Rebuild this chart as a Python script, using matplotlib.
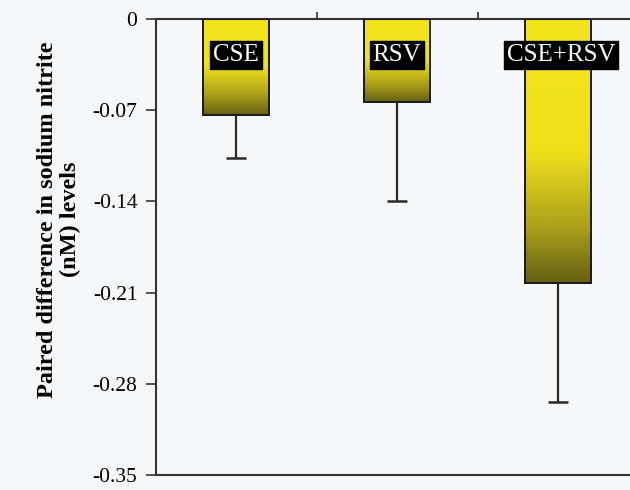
import matplotlib
matplotlib.use("Agg")
import matplotlib.pyplot as plt
import numpy as np
from matplotlib.colors import LinearSegmentedColormap

categories = ["CSE", "RSV", "CSE+RSV"]
values = [-0.074, -0.064, -0.203]
errors = [0.033, 0.076, 0.091]
yticks = [0, -0.07, -0.14, -0.21, -0.28, -0.35]
ytick_labels = ["0", "-0.07", "-0.14", "-0.21", "-0.28", "-0.35"]
ylabel = "Paired difference in sodium nitrite\n(nM) levels"

plt.rcParams['font.family'] = ['Liberation Serif', 'DejaVu Serif']
plt.rcParams['axes.unicode_minus'] = False

W, H = 630, 490
fig = plt.figure(figsize=(W / 100, H / 100), dpi=100)
bg = "#f6f7f9"
fig.patch.set_facecolor(bg)

left_px, right_px = 155.5, 638.5
top_px, bot_px = 19, 475
ax = fig.add_axes([left_px / W, (H - bot_px) / H, (right_px - left_px) / W, (bot_px - top_px) / H])
ax.set_facecolor(bg)

x = np.arange(len(categories))
width = 0.415
cmap = LinearSegmentedColormap.from_list(
    "yg", [(0.0, "#f3e51c"), (0.5, "#efe01a"), (0.78, "#aea31a"), (1.0, "#666014")])

bars = ax.bar(x, values, width=width, color="none", edgecolor="#1a1a1a", linewidth=1.4, zorder=3)
grad = np.linspace(0, 1, 256).reshape(-1, 1)
for b, v in zip(bars, values):
    x0 = b.get_x()
    im = ax.imshow(grad, cmap=cmap, aspect="auto", extent=[x0, x0 + width, v, 0],
                   origin="upper", zorder=2, interpolation="bicubic")
    im.set_clip_path(b)

cont = ax.errorbar(x, values, yerr=[errors, [0] * len(errors)], fmt="none", ecolor="#2a2a2a",
                   elinewidth=1.6, capsize=7, capthick=1.8, zorder=4)
caplines = cont[1]
if len(caplines) > 1:
    caplines[1].set_visible(False)

for xi, lab in zip(x, categories):
    ax.text(xi + (0.02 if lab == "CSE+RSV" else 0), -0.028, lab, ha="center", va="center",
            color="white", fontsize=18,
            bbox=dict(boxstyle="square,pad=0.12", facecolor="black", edgecolor="black"),
            zorder=5)

ax.set_xlim(-0.5, 2.5)
ax.set_ylim(-0.35, 0)
ax.set_yticks(yticks)
ax.set_yticklabels(ytick_labels, fontsize=15.5)
ax.xaxis.tick_top()
ax.set_xticks([0.5, 1.5, 2.5])
ax.set_xticklabels([])
ax.tick_params(axis="x", direction="out", length=5, width=1.2, color="#333333")
ax.tick_params(axis="y", direction="out", length=7, width=1.2, color="#333333", pad=6)
for s in ["left", "top", "bottom"]:
    ax.spines[s].set_color("#333333")
    ax.spines[s].set_linewidth(1.5)
ax.spines["right"].set_visible(False)

ax.set_ylabel(ylabel, fontsize=17.5, fontweight="bold", linespacing=1.1)
ax.yaxis.set_label_coords(-0.155, 0.56)

fig.savefig("out.png", dpi=100, facecolor=bg)
